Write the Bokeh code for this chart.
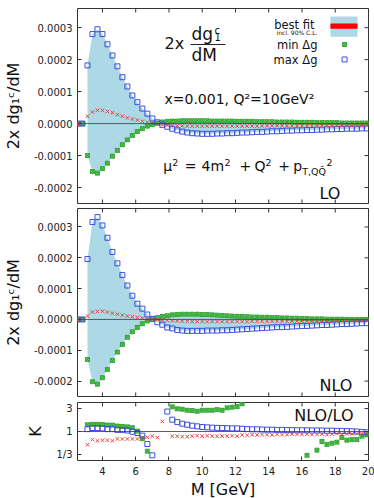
import numpy as np
from bokeh.plotting import figure
from bokeh.layouts import column
from bokeh.models import (Range1d, FixedTicker, Span, Label, BoxAnnotation,
                          PrintfTickFormatter, CustomJSTickFormatter)
from bokeh.embed import file_html
from bokeh.resources import INLINE

# ---------------- data ----------------
M = [2.5, 2.8, 3.1, 3.4, 3.7, 4.0, 4.3, 4.6, 4.9, 5.2, 5.5, 5.8, 6.1, 6.4, 6.7, 7.0,
     7.3, 7.6, 7.9, 8.2, 8.5, 8.8, 9.1, 9.4, 9.7, 10.0, 10.3, 10.6, 10.9, 11.2, 11.5,
     11.8, 12.1, 12.4, 12.7, 13.0, 13.3, 13.6, 13.9, 14.2, 14.5, 14.8, 15.1, 15.4,
     15.7, 16.0, 16.3, 16.6, 16.9, 17.2, 17.5, 17.8, 18.1, 18.4, 18.7, 19.0, 19.3,
     19.6, 19.9]

# LO, in units of 1e-4
lo_best = [0, 0, 0.23, 0.36, 0.42, 0.41, 0.38, 0.34, 0.28, 0.23, 0.18, 0.14, 0.11, 0.07,
           0.04, 0.01, -0.02, -0.04,
           -0.05, -0.06, -0.07, -0.07, -0.08, -0.08, -0.08, -0.08, -0.08, -0.08,
           -0.08, -0.08, -0.08, -0.08, -0.08, -0.08, -0.08, -0.08, -0.08, -0.07, -0.07, -0.07,
           -0.07, -0.07, -0.07, -0.07, -0.07, -0.07, -0.07, -0.07, -0.06, -0.06,
           -0.06, -0.06, -0.06, -0.06, -0.06, -0.06, -0.06, -0.06, -0.06]
lo_min = [0, 0, -1.00, -1.50, -1.55, -1.41, -1.24, -1.02, -0.84, -0.66, -0.51, -0.37, -0.25,
          -0.16, -0.08, -0.03, 0.02, 0.05,
          0.07, 0.08, 0.08, 0.09, 0.09, 0.09, 0.09, 0.09, 0.09, 0.08, 0.08, 0.08, 0.08, 0.08,
          0.07, 0.07, 0.07, 0.07, 0.06, 0.06, 0.06, 0.06, 0.05, 0.05, 0.05, 0.05, 0.04, 0.04,
          0.04, 0.04, 0.03, 0.03, 0.03, 0.03, 0.03, 0.02, 0.02, 0.02, 0.02, 0.02, 0.02]
lo_max = [0, 0, 1.82, 2.80, 2.95, 2.80, 2.48, 2.13, 1.79, 1.45, 1.16, 0.88, 0.67, 0.47,
          0.31, 0.16, 0.04, -0.04,
          -0.10, -0.16, -0.21, -0.25, -0.28, -0.30, -0.31, -0.32, -0.32, -0.32,
          -0.31, -0.31, -0.30, -0.30, -0.29, -0.28, -0.28, -0.27, -0.26, -0.26,
          -0.25, -0.24, -0.24, -0.23, -0.22, -0.22, -0.21, -0.21, -0.20, -0.20,
          -0.19, -0.19, -0.18, -0.18, -0.17, -0.17, -0.16, -0.16, -0.16, -0.15, -0.15]

# NLO, in units of 1e-4
nlo_best = [0, 0, 0.11, 0.24, 0.26, 0.27, 0.24, 0.20, 0.17, 0.14, 0.11, 0.09, 0.06, 0.04,
            0.02, 0.01, 0.00, -0.02,
            -0.03, -0.04, -0.05, -0.06, -0.06, -0.07, -0.07, -0.07, -0.07, -0.07,
            -0.07, -0.07, -0.07, -0.07, -0.07, -0.07, -0.07, -0.06, -0.06, -0.06,
            -0.06, -0.06, -0.06, -0.06, -0.06, -0.05, -0.05, -0.05, -0.05, -0.05,
            -0.05, -0.05, -0.05, -0.05, -0.04, -0.04, -0.04, -0.04, -0.04, -0.04, -0.04]
nlo_min = [0, 0, -1.30, -2.02, -2.10, -1.89, -1.62, -1.33, -1.06, -0.81, -0.58, -0.40, -0.26,
           -0.14, -0.05, 0.01, 0.06, 0.10,
           0.12, 0.15, 0.16, 0.17, 0.17, 0.17, 0.17, 0.16, 0.16, 0.15,
           0.14, 0.13, 0.12, 0.11, 0.10, 0.10, 0.09, 0.08, 0.08, 0.07,
           0.07, 0.06, 0.06, 0.05, 0.05, 0.04, 0.04, 0.03, 0.03, 0.02,
           0.02, 0.02, 0.01, 0.01, 0.01, 0.01, 0.00, 0.00, 0.00, 0.00, 0.00]
nlo_max = [0, 0, 1.96, 3.16, 3.32, 3.05, 2.65, 2.19, 1.82, 1.44, 1.10, 0.77, 0.51, 0.35,
           0.16, 0.02, -0.09, -0.17,
           -0.26, -0.29, -0.34, -0.36, -0.37, -0.37, -0.37, -0.37, -0.36, -0.36,
           -0.36, -0.35, -0.35, -0.34, -0.33, -0.32, -0.31, -0.30, -0.29, -0.28,
           -0.27, -0.26, -0.25, -0.25, -0.24, -0.23, -0.22, -0.21, -0.21, -0.20,
           -0.19, -0.18, -0.18, -0.17, -0.16, -0.15, -0.15, -0.14, -0.13, -0.12, -0.12]

nan = float("nan")
# K = NLO/LO
k_best = [nan, nan, 0.53, 0.68, 0.64, 0.66, 0.66, 0.64, 0.70, 0.70, 0.70, 0.70, 0.70, 0.76,
          0.76, 0.80, 0.75, 1.62,
          nan,
          0.80, 0.80, 0.78, 0.78, 0.80, 0.82, 0.80, 0.82, 0.80, 0.79,
          0.80, 0.80, 0.82, 0.80, 0.85, 0.83, 0.86, 0.85, 0.87, 0.86,
          0.85, 0.87, 0.86, 0.86, 0.88, 0.87, 0.87, 0.88, 0.86, 0.87,
          0.88, 0.86, 0.88, 0.90, 0.88, 0.90, 0.89, 0.90, 0.91, 0.92]
k_max = [nan, nan, 1.12, 1.18, 1.18, 1.16, 1.12, 1.12, 1.08, 1.08, 1.05, 0.99, 0.93, 0.82,
         0.55, 0.32, nan, nan,
         2.6,
         1.76, 1.57, 1.45, 1.38, 1.32, 1.28, 1.24, 1.22, 1.20, 1.19,
         1.18, 1.17, 1.16, 1.16, 1.14, 1.12, 1.11, 1.11, 1.10, 1.09,
         1.09, 1.08, 1.08, 1.07, 1.07, 1.06, 1.06, 1.06, 1.05, 1.05,
         1.05, 1.04, 1.04, 1.03, 1.03, 1.02, 1.01, 1.00, 0.98, 0.96]
k_min = [nan, nan, 1.38, 1.41, 1.41, 1.40, 1.36, 1.36, 1.30, 1.27, 1.25, 1.20, 1.02, 0.71,
         0.39, nan, nan, nan,
         nan,
         3.25, 2.95, 2.90, 2.76, 2.72, 2.63, 2.76, 2.76, 2.76, 2.85, 2.76, 3.10, 3.20, 3.30, 3.76,
         nan, nan, nan, nan, nan, nan, nan, nan, nan, nan, nan, nan,
         0.32, nan, 0.41, 0.62, 0.54, 0.57, 0.60, 0.75, 0.66, 0.68, 0.68, 0.80, 0.85]

for arr in (lo_best, lo_min, lo_max, nlo_best, nlo_min, nlo_max, k_best, k_max, k_min):
    assert len(arr) == len(M)

UNIT = 1e-4
x_ticks = [4, 6, 8, 10, 12, 14, 16, 18, 20]
y_ticks = [-0.0002, -0.0001, 0.0, 0.0001, 0.0002, 0.0003]
k_ticks = [1 / 3, 1, 3]
k_tick_labels = ["1/3", "1", "3"]

# ---------------- style ----------------
FONT = "DejaVu Sans"
AX = "#333333"
BLUE = "#3d4fe0"
GREEN_FILL = "#66d066"
GREEN_LINE = "#1f9a1f"
RED = "#e8453f"
BAND = "#add8e6"
TICK = 4           # tick length, px
FRAME_W = 291
X0, X1 = 2.5, 20.0
xr = Range1d(X0, X1)


def style_axis(ax, ticks):
    ax.ticker = FixedTicker(ticks=ticks)
    ax.major_tick_in = TICK
    ax.major_tick_out = 0
    ax.minor_tick_in = 0
    ax.minor_tick_out = 0
    ax.axis_line_color = None
    ax.major_tick_line_color = AX
    ax.major_label_text_font = FONT
    ax.major_label_text_font_size = "10px"
    ax.major_label_text_color = "#222222"
    ax.major_label_standoff = 5
    ax.axis_label_text_font = FONT
    ax.axis_label_text_font_style = "normal"
    ax.axis_label_text_color = "#111111"


def mirror_ticks(p, frame_h, y0, y1, yt, log=False, bottom=True):
    dx = TICK * (X1 - X0) / FRAME_W
    if log:
        f = 10 ** (TICK * (np.log10(y1) - np.log10(y0)) / frame_h)
        top_in, bot_in = y1 / f, y0 * f
    else:
        dy = TICK * (y1 - y0) / frame_h
        top_in, bot_in = y1 - dy, y0 + dy
    n = len(x_ticks)
    p.segment(x0=x_ticks, y0=[y1] * n, x1=x_ticks, y1=[top_in] * n,
              line_color=AX, line_width=1)
    if bottom:
        p.segment(x0=x_ticks, y0=[y0] * n, x1=x_ticks, y1=[bot_in] * n,
                  line_color=AX, line_width=1)
    m = len(yt)
    p.segment(x0=[X1] * m, y0=yt, x1=[X1 - dx] * m, y1=yt, line_color=AX, line_width=1)


def make_fig(frame_h, y0, y1, log=False, top=0, bottom=0, xaxis=False):
    p = figure(frame_width=FRAME_W, frame_height=frame_h, x_range=xr,
               y_range=Range1d(y0, y1),
               y_axis_type="log" if log else "linear", output_backend="svg",
               toolbar_location=None, min_border_left=76, min_border_right=7,
               min_border_top=top, min_border_bottom=bottom,
               x_axis_location="below" if xaxis else None)
    p.grid.visible = False
    p.outline_line_color = AX
    p.outline_line_width = 1
    yax = p.left[0]
    style_axis(yax, k_ticks if log else y_ticks)
    yax.axis_label_text_font_size = "16px"
    yax.axis_label_standoff = 8
    mirror_ticks(p, frame_h, y0, y1, k_ticks if log else y_ticks, log=log,
                 bottom=not xaxis)
    if xaxis:
        style_axis(p.below[0], x_ticks)
    return p, yax


def lab(p, text, x, y, size, align="left", color="#111111"):
    # y is the vertical middle of the text
    p.add_layout(Label(x=x, y=y, text=text, text_font=FONT, text_font_size=size,
                       text_align=align, text_baseline="middle", text_color=color))


def markers(p, xs, mn, mx, best):
    p.scatter(xs, mn, marker="square_x", size=4, fill_color=GREEN_FILL,
              line_color=GREEN_LINE, line_width=0.8)
    p.scatter(xs, mx, marker="square", size=5, fill_color=None,
              line_color=BLUE, line_width=1)
    if best is not None:
        p.scatter(xs, best, marker="x", size=5, line_color=RED, line_width=1)


def draw_panel(p, best, mn, mx):
    p.varea(x=M[2:], y1=[v * UNIT for v in mn[2:]], y2=[v * UNIT for v in mx[2:]],
            fill_color=BAND, fill_alpha=1.0)
    p.add_layout(Span(location=0, dimension="width", line_color="#444444",
                      line_width=1, line_alpha=0.85))
    markers(p, M, [v * UNIT for v in mn], [v * UNIT for v in mx],
            [v * UNIT for v in best])


Y0, Y1 = -0.00025, 0.00036

# ---------------- panel 1 (LO) ----------------
p1, ya1 = make_fig(195, Y0, Y1, top=8, bottom=2)
ya1.formatter = PrintfTickFormatter(format="%.4f")
ya1.axis_label = "2x dg\u2081\u1d9c/dM"
draw_panel(p1, lo_best, lo_min, lo_max)

# formula  2x dg1c/dM
lab(p1, "2x", 7.73, 2.515e-4, "16px")
lab(p1, "dg", 9.36, 2.787e-4, "17px")
lab(p1, "c", 10.74, 2.918e-4, "10px")
lab(p1, "1", 10.74, 2.693e-4, "10px")
p1.add_layout(BoxAnnotation(left=9.30, right=11.40, bottom=2.46e-4, top=2.49e-4,
                            fill_color="#222222", fill_alpha=1, line_alpha=0))
lab(p1, "dM", 9.36, 2.161e-4, "17px")

# legend
p1.add_layout(BoxAnnotation(left=17.71, right=19.34, bottom=2.72e-4, top=3.35e-4,
                            fill_color=BAND, fill_alpha=1, line_alpha=0))
p1.add_layout(BoxAnnotation(left=17.71, right=19.34, bottom=2.97e-4, top=3.13e-4,
                            fill_color="#ff0000", fill_alpha=1, line_alpha=0))
lab(p1, "best fit", 16.75, 3.069e-4, "11.5px", align="right")
lab(p1, "incl. 90% C.L.", 16.93, 2.843e-4, "6px", align="right")
lab(p1, "min \u0394g", 16.93, 2.465e-4, "11.5px", align="right")
lab(p1, "max \u0394g", 16.93, 1.996e-4, "11.5px", align="right")
markers(p1, [18.56], [2.474e-4], [2.005e-4], None)

lab(p1, "x=0.001, Q\u00b2=10GeV\u00b2", 7.73, 0.773e-4, "14px")
# mu^2 = 4m^2 + Q^2 + p_{T,QQbar}^2, built from pieces
MAIN_Y, SUP_Y, SUB_Y = -1.314e-4, -1.207e-4, -1.489e-4
lab(p1, "\u03bc", 7.654, MAIN_Y, "14px")
lab(p1, "2", 8.195, SUP_Y, "9.5px")
lab(p1, "=", 8.953, MAIN_Y, "14px")
lab(p1, "4m", 9.957, MAIN_Y, "14px")
lab(p1, "2", 11.34, SUP_Y, "9.5px")
lab(p1, "+", 12.242, MAIN_Y, "14px")
lab(p1, "Q", 13.144, MAIN_Y, "14px")
lab(p1, "2", 13.806, SUP_Y, "9.5px")
lab(p1, "+", 14.569, MAIN_Y, "14px")
lab(p1, "p", 15.471, MAIN_Y, "14px")
lab(p1, "T,QQ\u0304", 16.013, SUB_Y, "9.5px")
lab(p1, "2", 17.474, SUP_Y, "9.5px")
lab(p1, "LO", 17.05, -2.177e-4, "16px")

# ---------------- panel 2 (NLO) ----------------
p2, ya2 = make_fig(188, Y0, Y1, top=3, bottom=3)
ya2.formatter = PrintfTickFormatter(format="%.4f")
ya2.axis_label = "2x dg\u2081\u1d9c/dM"
draw_panel(p2, nlo_best, nlo_min, nlo_max)
lab(p2, "NLO", 17.05, -2.158e-4, "16px")

# ---------------- panel 3 (K) ----------------
p3, ya3 = make_fig(58, 0.25, 4.0, log=True, top=3, bottom=38, xaxis=True)
ya3.formatter = CustomJSTickFormatter(args=dict(kt=k_ticks, kl=k_tick_labels), code="""
for (let i = 0; i < kt.length; i++) {
  if (Math.abs(tick - kt[i]) < 1e-6) return kl[i];
}
return "";
""")
ya3.axis_label = "K"
xa3 = p3.below[0]
xa3.axis_label = "M [GeV]"
xa3.axis_label_text_font_size = "16px"
xa3.axis_label_standoff = 2
xa3.major_label_standoff = 6
p3.add_layout(Span(location=1, dimension="width", line_color="#444444",
                   line_width=1, line_alpha=0.85))
markers(p3, M, k_min, k_max, k_best)
lab(p3, "NLO/LO", 19.1, 2.108, "16px", align="right")

layout = column(p1, p2, p3, spacing=0)
open("out.html", "w").write(file_html(layout, INLINE))
